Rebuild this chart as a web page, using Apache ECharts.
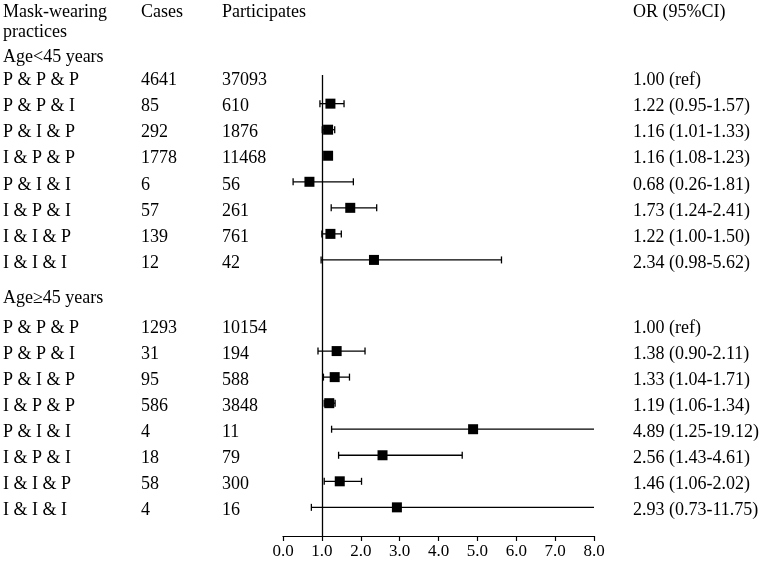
<!DOCTYPE html>
<html>
<head>
<meta charset="utf-8">
<script src="https://cdn.jsdelivr.net/npm/echarts@6/dist/echarts.min.js"></script>
<style>html,body{margin:0;padding:0;background:#fff}#c{width:763px;height:561px}</style>
</head>
<body>
<div id="c"></div>
<script>
const practices = ['P & P & P','P & P & I','P & I & P','I & P & P','P & I & I','I & P & I','I & I & P','I & I & I'];
const groupLabels = ['Age<45 years', 'Age\u226545 years'];
const headers = ['Mask-wearing', 'practices', 'Cases', 'Participates', 'OR (95%CI)'];

const cases1 = [4641, 85, 292, 1778, 6, 57, 139, 12];
const part1  = [37093, 610, 1876, 11468, 56, 261, 761, 42];
const or1    = [1.00, 1.22, 1.16, 1.16, 0.68, 1.73, 1.22, 2.34];
const lo1    = [null, 0.95, 1.01, 1.08, 0.26, 1.24, 1.00, 0.98];
const hi1    = [null, 1.57, 1.33, 1.23, 1.81, 2.41, 1.50, 5.62];

const cases2 = [1293, 31, 95, 586, 4, 18, 58, 4];
const part2  = [10154, 194, 588, 3848, 11, 79, 300, 16];
const or2    = [1.00, 1.38, 1.33, 1.19, 4.89, 2.56, 1.46, 2.93];
const lo2    = [null, 0.90, 1.04, 1.06, 1.25, 1.43, 1.06, 0.73];
const hi2    = [null, 2.11, 1.71, 1.34, 19.12, 4.61, 2.02, 11.75];

const xTicks = ['0.0','1.0','2.0','3.0','4.0','5.0','6.0','7.0','8.0'];

// ---- layout ----
const XMAX = 8;
const GROUP2_OFFSET = 9.5;
const FONT = '18px "Liberation Serif", "Times New Roman", serif';
const COL = { name: 3, cases: 141, part: 222, or: 633 };
const TEXT_DY = 3;

function fmt(v){ return v.toFixed(2); }
const rows = [];
function addGroup(cases, part, or, lo, hi, offset){
  practices.forEach((p, i) => {
    rows.push({
      idx: offset + i, name: p, cases: cases[i], part: part[i],
      or: or[i], lo: lo[i], hi: hi[i],
      orText: lo[i] == null ? fmt(or[i]) + ' (ref)' : fmt(or[i]) + ' (' + fmt(lo[i]) + '-' + fmt(hi[i]) + ')'
    });
  });
}
addGroup(cases1, part1, or1, lo1, hi1, 0);
addGroup(cases2, part2, or2, lo2, hi2, GROUP2_OFFSET);

// extra text lines: [text, col x, row index]
const extraTexts = [
  [headers[0], COL.name, -2.63],
  [headers[1], COL.name, -1.87],
  [headers[2], COL.cases, -2.63],
  [headers[3], COL.part, -2.63],
  [headers[4], COL.or, -2.63],
  [groupLabels[0], COL.name, -0.9],
  [groupLabels[1], COL.name, 8.35]
];

function txt(s, x, y){
  return { type: 'text', silent: true, style: { text: String(s), x: x, y: y + TEXT_DY, font: FONT, fill: '#000', textAlign: 'left', textVerticalAlign: 'middle' } };
}

const chart = echarts.init(document.getElementById('c'));
chart.setOption({
  animation: false,
  backgroundColor: '#fff',
  grid: { left: 283, right: 169, top: 75, bottom: 25 },
  xAxis: {
    type: 'value', min: 0, max: XMAX, interval: 1,
    axisLine: { show: true, onZero: false, lineStyle: { color: '#000', width: 1.2 } },
    axisTick: { show: true, length: 5, lineStyle: { color: '#000', width: 1.2 } },
    splitLine: { show: false },
    axisLabel: { color: '#000', fontFamily: 'Liberation Serif', fontSize: 17, margin: 7,
      formatter: v => xTicks[Math.round(v)] }
  },
  yAxis: { type: 'value', inverse: true, min: -0.1, max: 17.6, show: false },
  series: [
    {
      type: 'custom', clip: false, silent: true,
      data: rows.map(r => [r.idx]),
      renderItem: (params, api) => {
        const r = rows[params.dataIndex];
        const y = api.coord([0, r.idx])[1];
        return { type: 'group', children: [
          txt(r.name, COL.name, y), txt(r.cases, COL.cases, y), txt(r.part, COL.part, y), txt(r.orText, COL.or, y)
        ]};
      }
    },
    {
      type: 'custom', clip: false, silent: true,
      data: extraTexts.map(e => [e[2]]),
      renderItem: (params, api) => {
        const e = extraTexts[params.dataIndex];
        const y = api.coord([0, e[2]])[1];
        return txt(e[0], e[1], y);
      }
    },
    {
      type: 'custom', clip: false, silent: true,
      data: rows.filter(r => r.lo != null).map(r => [r.or, r.lo, r.hi, r.idx]),
      renderItem: (params, api) => {
        const orv = api.value(0), lo = api.value(1), hi = api.value(2), idx = api.value(3);
        const pL = api.coord([lo, idx]);
        const pH = api.coord([Math.min(hi, XMAX), idx]);
        const pM = api.coord([orv, idx]);
        const ls = { stroke: '#000', lineWidth: 1.3 };
        const ch = [
          { type: 'line', shape: { x1: pL[0], y1: pL[1], x2: pH[0], y2: pH[1] }, style: ls },
          { type: 'line', shape: { x1: pL[0], y1: pL[1] - 3.5, x2: pL[0], y2: pL[1] + 3.5 }, style: ls }
        ];
        if (hi <= XMAX) ch.push({ type: 'line', shape: { x1: pH[0], y1: pH[1] - 3.5, x2: pH[0], y2: pH[1] + 3.5 }, style: ls });
        ch.push({ type: 'rect', shape: { x: pM[0] - 5, y: pM[1] - 5, width: 10, height: 10 }, style: { fill: '#000' } });
        return { type: 'group', children: ch };
      },
      markLine: {
        silent: true, symbol: ['none', 'none'], label: { show: false },
        lineStyle: { color: '#000', width: 1.3, type: 'solid' },
        data: [{ xAxis: 1 }]
      }
    }
  ]
});
</script>
</body>
</html>
